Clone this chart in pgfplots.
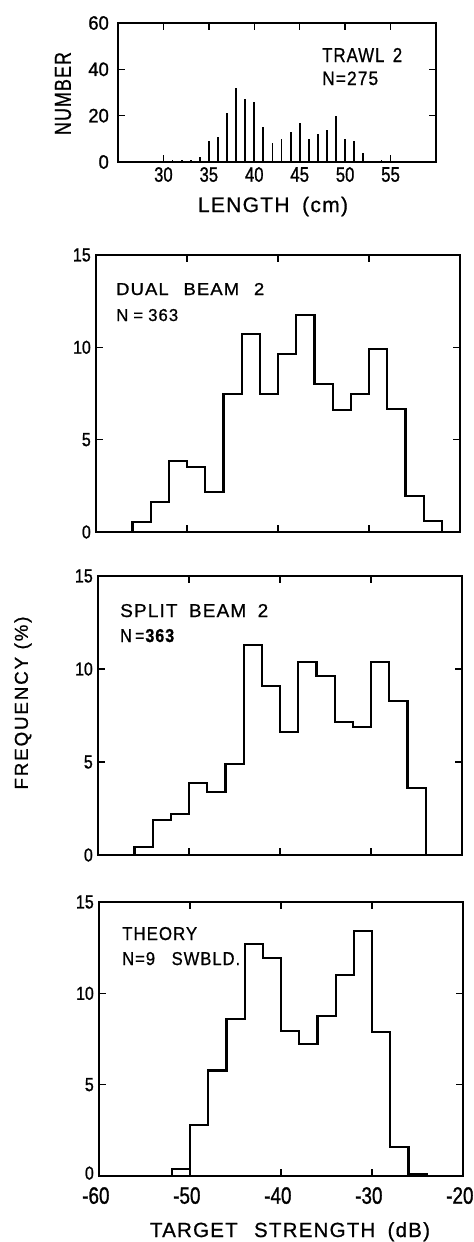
\documentclass[border=0pt]{standalone}
\usepackage{fontspec}
\usepackage{graphicx}
\setmainfont{Liberation Sans}[FakeBold=0.8]
\newfontfamily\labfont{Liberation Sans}[LetterSpace=6, FakeBold=0.8]
\newfontfamily\widefont{Liberation Sans}[LetterSpace=10, FakeBold=0.8]
\newfontfamily\digfont{Liberation Sans}[FakeBold=1.2]
\newcommand\lab[3]{\resizebox{#1}{#2}{\labfont\fontsize{20bp}{20bp}\selectfont #3}}
% tick label: height #1, horizontal squeeze #2
\newcommand\tk[3]{\scalebox{#2}[1]{\resizebox{!}{#1}{\digfont\fontsize{20bp}{20bp}\selectfont #3}}}
\newcommand\yt[1]{\tk{13bp}{0.85}{#1}}
\newcommand\ytt[1]{\tk{13.5bp}{0.95}{#1}}
\newcommand\xtt[1]{\tk{14.5bp}{0.8}{#1}}
\newcommand\xb[1]{\tk{16.5bp}{0.8}{\llap{-}#1}}
\usepackage{pgfplots}
\pgfplotsset{compat=1.18}
\pgfplotsset{
  base/.style={
    scale only axis,
    axis line style={line width=1.6bp, black},
    tick style={line width=1.5bp, black},
    tick align=inside,
    major tick length=7bp,
    clip=false,
    yticklabel style={inner sep=2bp, xshift=-3bp},
    xticklabel style={inner sep=2bp},
  },
  ts/.style={base,
    width=364bp,
    xmin=-60, xmax=-20, ymin=0, ymax=15,
    ytick={0,5,10,15}, yticklabels={\yt{0},\yt{5},\yt{10},\yt{15}},
  },
  hist/.style={const plot mark left, line width=2.2bp, black, no marks},
}
\begin{document}
\begin{tikzpicture}
\path[use as bounding box] (0,0) rectangle (474bp,-1242bp);

% ---------- trawl length ----------
\begin{axis}[base, at={(118bp,-162bp)}, anchor=south west,
  width=318bp, height=139bp,
  xmin=25, xmax=60, ymin=0, ymax=60,
  yticklabel style={xshift=-4bp},
  xticklabel style={yshift=-3bp},
  xtick={30,35,40,45,50,55},
  xticklabels={\xtt{30},\xtt{35},\xtt{40},\xtt{45},\xtt{50},\xtt{55}},
  ytick={0,20,40,60}, yticklabels={\ytt{0},\ytt{20},\ytt{40},\ytt{60}}]
\addplot[ycomb, line width=1.8bp, black, no marks] coordinates {
(31,1)(32,1)(33,1)(34,2)(35,9)(36,11)(37,21)(38,32)(39,27)(40,26)(41,15)(42,8)
(43,10)(44,13)(45,17)(46,10)(47,12)(48,14)(49,20)(50,10)(51,9)(52,4)(54,1)(55,1)};
\end{axis}

% ---------- dual beam ----------
\begin{axis}[ts, at={(96bp,-532bp)}, anchor=south west, height=277bp,
  xtick={-50,-40,-30}, xticklabels={}]
\addplot[hist] coordinates {
(-56,0)(-56,0.55)(-54,1.63)(-52,3.83)(-50,3.53)(-48,2.17)(-46,7.47)(-44,10.72)
(-42,7.47)(-40,9.62)(-38,11.75)(-36,8.01)(-34,6.6)(-32,7.47)(-30,9.89)(-28,6.64)
(-26,1.93)(-24,0.6)(-22,0)};
\end{axis}

% ---------- split beam ----------
\begin{axis}[ts, at={(98bp,-855bp)}, anchor=south west, height=279bp,
  xtick={-50,-40,-30}, xticklabels={}]
\addplot[hist] coordinates {
(-56,0)(-56,0.41)(-54,1.88)(-52,2.2)(-50,3.89)(-48,3.37)(-46,4.89)(-44,11.27)
(-42,9.1)(-40,6.63)(-38,10.39)(-36,9.64)(-34,7.17)(-32,6.9)(-30,10.39)(-28,8.3)
(-26,3.62)(-24,0)};
\end{axis}

% ---------- theory ----------
\begin{axis}[ts, at={(99bp,-1176bp)}, anchor=south west, height=274bp,
  yticklabels={\raisebox{6bp}{\yt{0}},\yt{5},\yt{10},\yt{15}},
  xticklabel style={yshift=-9bp},
  xtick={-60,-50,-40,-30,-20},
  xticklabels={\xb{60},\xb{50},\xb{40},\xb{30},\xb{20}\hspace{14bp}}]
\addplot[hist] coordinates {
(-52,0)(-52,0.38)(-50,2.8)(-48,5.78)(-46,8.61)(-44,12.72)(-42,11.94)(-40,7.92)
(-38,7.22)(-36,8.74)(-34,11.02)(-32,13.4)(-30,7.88)(-28,1.57)(-26,0.11)(-24,0)};
\end{axis}

% ---------- texts ----------
\node[anchor=base west, inner sep=0] at (322bp,-62bp) {\lab{80bp}{14bp}{TRAWL\hspace{0.5em}2}};
\node[anchor=base west, inner sep=0] at (322bp,-85bp) {\lab{56bp}{13.5bp}{N=275}};
\node[anchor=center, inner sep=0, rotate=90] at (63bp,-93.5bp) {\lab{83bp}{16bp}{NUMBER}};
\node[anchor=base, inner sep=0] at (273bp,-212bp) {\resizebox{150bp}{!}{\labfont\fontsize{20bp}{20bp}\selectfont LENGTH\hspace{0.6em}(cm)}};

\node[anchor=base west, inner sep=0] at (116bp,-295bp) {\lab{148bp}{12bp}{DUAL\hspace{0.8em}BEAM\hspace{0.8em}2}};
\node[anchor=base west, inner sep=0] at (116bp,-321bp) {\lab{62bp}{12bp}{N\hspace{0.3em}=\hspace{0.3em}363}};

\node[anchor=base west, inner sep=0] at (120bp,-617bp) {\lab{148bp}{13bp}{SPLIT\hspace{0.6em}BEAM\hspace{0.6em}2}};
\node[anchor=base west, inner sep=0] at (120bp,-642bp) {\lab{55bp}{13bp}{N\hspace{0.2em}=\textbf{363}}};

\node[anchor=base west, inner sep=0] at (122bp,-940bp) {\lab{75bp}{13bp}{THEORY}};
\node[anchor=base west, inner sep=0] at (122bp,-965bp) {\lab{118bp}{13bp}{N=9\hspace{1em}SWBLD.}};

\node[anchor=center, inner sep=0, rotate=90] at (23bp,-703bp) {\resizebox{173bp}{!}{\widefont\fontsize{20bp}{20bp}\selectfont FREQUENCY\hspace{0.4em}(\%)}};
\node[anchor=base, inner sep=0] at (290bp,-1237bp) {\resizebox{280bp}{!}{\labfont\fontsize{20bp}{20bp}\selectfont TARGET\hspace{0.8em}STRENGTH\hspace{0.6em}(dB)}};
\end{tikzpicture}
\end{document}
